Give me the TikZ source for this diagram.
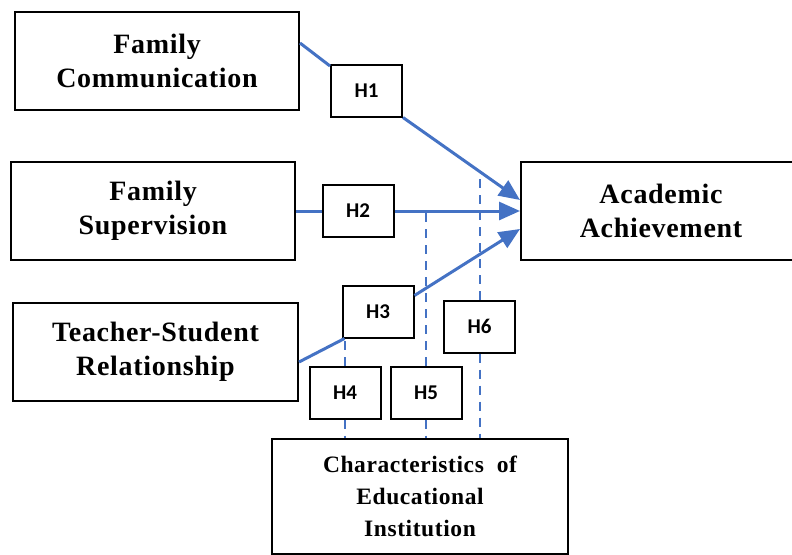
\documentclass[tikz,border=0pt]{standalone}
\usepackage{fontspec}
\setmainfont{Liberation Serif}
\newfontfamily\boxfont[LetterSpace=2.5]{Liberation Serif}
\newfontfamily\hypfont{Carlito}
\usetikzlibrary{positioning,arrows.meta}
\definecolor{linkblue}{RGB}{68,114,196}

\begin{document}
\begin{tikzpicture}[x=1pt,y=-1pt,
  factor/.style={draw,line width=2pt,minimum width=284pt,minimum height=98pt,inner sep=0pt,align=center,font=\boxfont\fontsize{28}{34}\selectfont\bfseries},
  hyp/.style={draw,line width=2pt,minimum width=71pt,minimum height=52pt,inner sep=0pt,font=\hypfont\fontsize{21}{24}\selectfont\bfseries},
  link/.style={linkblue,line width=3pt},
  effect/.style={link,-{Triangle[length=21pt,width=18pt]}},
  moder/.style={linkblue,line width=2pt,dash pattern=on 9pt off 7pt}]
\useasboundingbox (0,0) rectangle (792,554);
\clip (0,0) rectangle (792,554);
%the variables
\node [factor] (comm) at (157,61) {Family\\Communication};
\node [factor] (superv) at (153,211) {Family\\Supervision};
\node [factor,minimum width=285pt] (teach) at (155.5,352) {Teacher-Student\\Relationship};
\node [factor,minimum width=280pt] (acad) at (661,211) {Academic\\Achievement};
\node [factor,minimum width=296pt,minimum height=115pt,font=\boxfont\fontsize{23.5}{32}\selectfont\bfseries] (inst) at (420,496) {Characteristics\ \ of\\Educational\\Institution};
%the hypotheses
\node [hyp] (h1) at (366.5,90.5) {H1};
\node [hyp] (h2) at (358,211) {H2};
\node [hyp] (h3) at (378,311.5) {H3};
\node [hyp] (h4) at (345,392.5) {H4};
\node [hyp] (h5) at (426,392.5) {H5};
\node [hyp] (h6) at (479.5,326.5) {H6};
%direct effects
\draw[link] ([yshift=18pt]comm.east) -- ([yshift=-2.5pt]h1.north west);

\draw[effect] (h1.south east) -- coordinate[pos=0.65] (m1) ([yshift=11pt]acad.west);

\draw[link] (superv.east) -- (h2.west);

\draw[effect] (h2.east) -- (acad.west);

\draw[link] ([yshift=-10pt]teach.east) -- ([xshift=3pt]h3.south west);

\draw[effect] ([yshift=16pt]h3.east) -- ([yshift=-18pt]acad.west);
%moderation lines
\draw[moder] (h4.north) -- (h4.north |- h3.south);

\draw[moder] (h4.south) -- (h4.south |- inst.north);

\draw[moder] (h5.north) -- (h5.north |- h2.east);

\draw[moder] (h5.south) -- (h5.south |- inst.north);

\draw[moder] (h6.north) -- (h6.north |- m1);

\draw[moder] (h6.south) -- (h6.south |- inst.north);

\end{tikzpicture}
\end{document}
